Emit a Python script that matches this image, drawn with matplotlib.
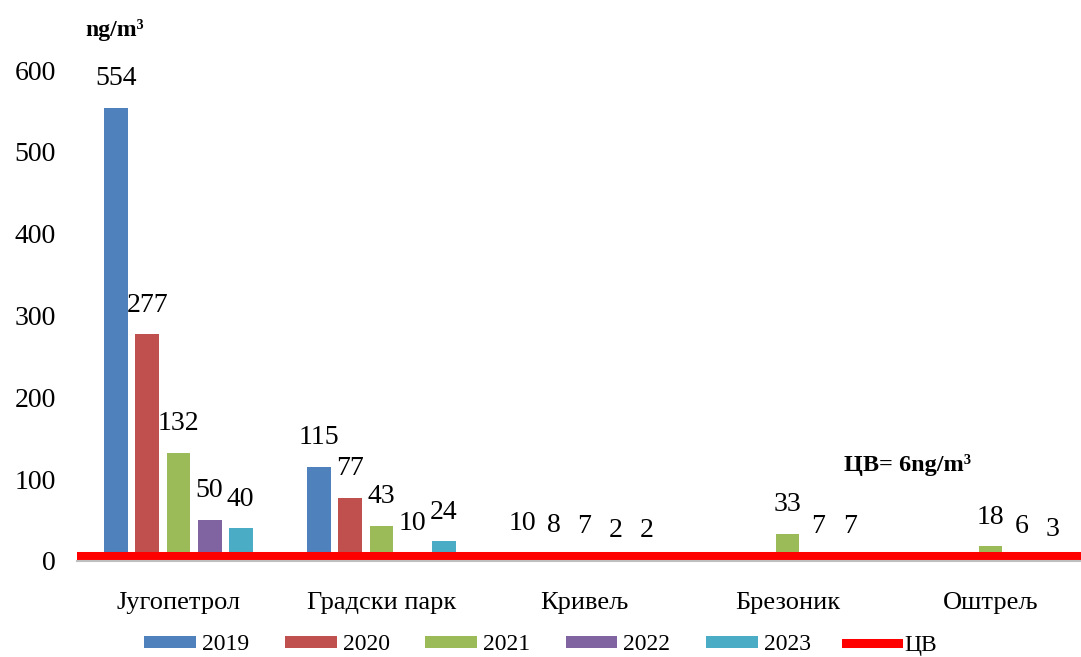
import numpy as np
import matplotlib.pyplot as plt

plt.rcParams['font.family'] = ['Liberation Serif', 'DejaVu Serif']

stations = ['Југопетрол', 'Градски парк', 'Кривељ', 'Брезоник', 'Оштрељ']
years = ['2019', '2020', '2021', '2022', '2023']
v2019 = [554, 115, 10, np.nan, np.nan]
v2020 = [277, 77, 8, np.nan, np.nan]
v2021 = [132, 43, 7, 33, 18]
v2022 = [50, 10, 2, 7, 6]
v2023 = [40, 24, 2, 7, 3]
series = [v2019, v2020, v2021, v2022, v2023]
colors = ['#4F81BD', '#C0504D', '#9BBB59', '#8064A2', '#4BACC6']
limit = 6

fig = plt.figure(figsize=(10.81, 6.57), dpi=100)
ax = fig.add_axes([77/1081, 1 - 561/657, 1015/1081, 491/657])

x = np.arange(len(stations))
slot = 0.153
w = 0.118
for i, (vals, c, yr) in enumerate(zip(series, colors, years)):
    pos = x + (i - 2) * slot
    ax.bar(pos, vals, width=w, color=c, label=yr, zorder=2)
    for px, v in zip(pos, vals):
        if np.isnan(v):
            continue
        ax.annotate(str(v), (px, v), xytext=(0, 21), textcoords='offset points',
                    ha='center', va='center', fontsize=20, zorder=4,
                    annotation_clip=False)

ax.axhline(limit, color='#FF0000', lw=6.5, zorder=3, label='ЦВ')

ax.set_xlim(-0.5, 4.5)
ax.set_ylim(0, 600)
ax.set_yticks(range(0, 601, 100))
ax.set_xticks(x)
ax.set_xticklabels(stations)
ax.tick_params(axis='y', length=0, labelsize=20, pad=15)
ax.tick_params(axis='x', length=0, labelsize=19, pad=22)
for s in ['top', 'right', 'left']:
    ax.spines[s].set_visible(False)
ax.spines['bottom'].set_color('#BFBFBF')
ax.spines['bottom'].set_linewidth(1.5)
ax.spines['bottom'].set_zorder(3.5)

ax.text(3.59, 117, 'ЦВ= 6ng/m³', ha='center', va='center',
        fontsize=17.5, fontweight='bold')
fig.text(115/1081, 1 - 30/657, 'ng/m³', ha='center', va='center',
         fontsize=17, fontweight='bold')

handles, labels = ax.get_legend_handles_labels()
order = [1, 2, 3, 4, 5, 0]
fig.legend([handles[i] for i in order], [labels[i] for i in order],
           loc='center', bbox_to_anchor=(0.5, 1 - 645/657),
           ncol=6, frameon=False, fontsize=17, handlelength=2.2,
           handleheight=0.45, handletextpad=0.25, columnspacing=1.5)

fig.savefig('out.png', dpi=100)
